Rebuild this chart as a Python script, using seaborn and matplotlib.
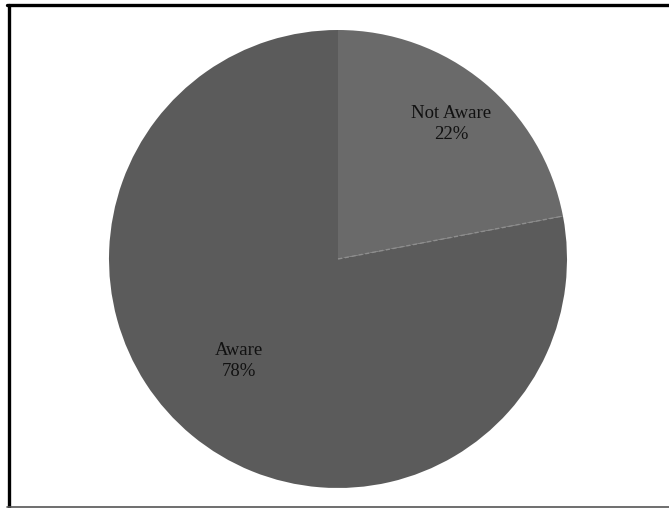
import numpy as np
import matplotlib
matplotlib.use("Agg")
import matplotlib.pyplot as plt
from matplotlib.lines import Line2D
import seaborn as sns

categories = ["Not Aware", "Aware"]
shares = [22, 78]
slice_colors = ["#6a6a6a", "#5b5b5b"]

sns.set_theme(style="white")
plt.rcParams["font.family"] = ["Liberation Serif", "DejaVu Serif"]

W, H = 669, 508
fig = plt.figure(figsize=(W / 100, H / 100), dpi=100)
fig.patch.set_facecolor("white")
ax = fig.add_axes([0, 0, 1, 1])

cx, cy, r = 338, H - 259, 229
wedges, _ = ax.pie(
    shares,
    colors=slice_colors,
    startangle=90,
    counterclock=False,
    center=(cx, cy),
    radius=r,
    frame=True,
    wedgeprops=dict(linewidth=0),
)
ax.set_xlim(0, W)
ax.set_ylim(0, H)
ax.set_aspect("equal")
ax.axis("off")

# light dashed divider between the slices
theta = np.deg2rad(wedges[0].theta1)
ax.plot([cx, cx + r * np.cos(theta)], [cy, cy + r * np.sin(theta)],
        color="#8e8e8e", lw=1.0, ls=(0, (3, 2)))

# data labels
label_offsets = [(113, 135), (-99, -102)]
for cat, val, (dx, dy) in zip(categories, shares, label_offsets):
    ax.text(cx + dx, cy + dy, f"{cat}\n{val}%", ha="center", va="center",
            fontsize=13.5, color="#111111", linespacing=1.3,
            path_effects=[])

# chart frame
fig.add_artist(Line2D([8.5 / W, 8.5 / W], [1 - 4.5 / H, 0], transform=fig.transFigure,
                      color="black", lw=2.4))
fig.add_artist(Line2D([7 / W, 1], [1 - 4.5 / H, 1 - 4.5 / H], transform=fig.transFigure,
                      color="black", lw=2.4))
fig.add_artist(Line2D([7 / W, 1], [1.5 / H, 1.5 / H], transform=fig.transFigure,
                      color="#555555", lw=1.2))

fig.savefig("out.png", dpi=100)
